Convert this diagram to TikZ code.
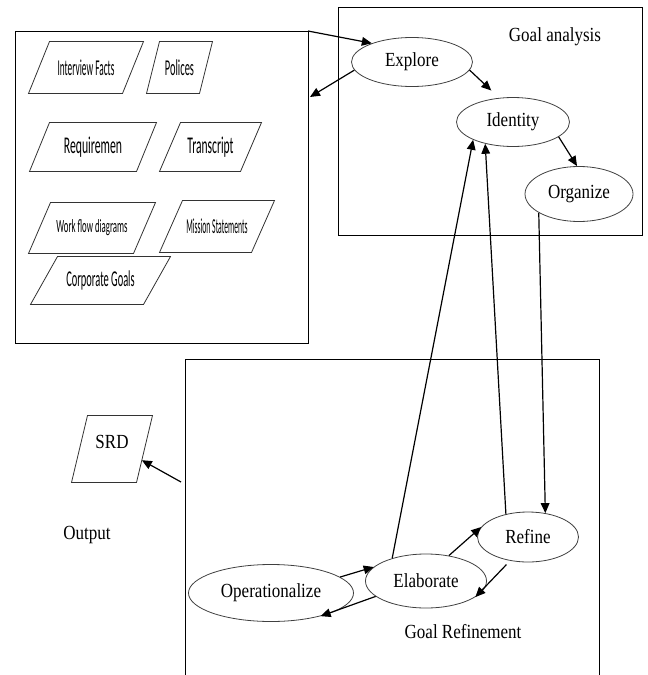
\documentclass[tikz,border=0pt]{standalone}
\usepackage{fontspec}
\usepackage{graphicx}
\usetikzlibrary{shapes.geometric,arrows.meta,calc}

\newfontfamily\goalfont[FakeStretch=0.85]{Liberation Serif}
\newfontfamily\docfont{Carlito}
\newcommand{\squeeze}[3]{{\fontsize{#1}{#1}\docfont\scalebox{#2}[1]{#3}}}

\tikzset{every picture/.style={line width=0.75pt}}
\tikzset{
  goal/.style={ellipse, draw=black!75, line width=0.6pt, inner sep=0pt, font=\fontsize{15}{17}\goalfont},
  doc/.style={rectangle, inner sep=0pt},
  docline/.style={draw=black!80, line width=0.6pt},
  link/.style={-{Triangle[length=7.5pt,width=6.5pt]}, line width=0.9pt},
  caption/.style={font=\fontsize{15}{17}\goalfont}
}

\begin{document}
\begin{tikzpicture}[x=0.75pt,y=0.75pt,yscale=-1,xscale=1]
    \useasboundingbox (0,0) rectangle (648,675);

    %Shape: Rectangle [sources]
    \draw (15,31) rectangle (308,343);
    \coordinate (srcNE) at (308,31);
    \coordinate (srcIn) at (310,97);
    %Shape: Rectangle [goal analysis]
    \draw (338,7) rectangle (642,235);
    %Shape: Open Rectangle [goal refinement]
    \draw (185,677) |- (599,359) -- (599,677);
    \coordinate (refW) at (181,482);

    %Shape: Parallelograms [sources]
    \node[doc, minimum width=85.5pt, minimum height=38.25pt] (facts) at (86,67.5) {\squeeze{17}{0.41}{Interview Facts}};
    \node[doc, minimum width=48.75pt, minimum height=38.25pt] (polices) at (179.5,67.5) {\squeeze{17}{0.46}{Polices}};
    \node[doc, minimum width=94.5pt, minimum height=36pt] (req) at (93,147) {\squeeze{18}{0.49}{Requiremen}};
    \node[doc, minimum width=75.75pt, minimum height=36pt] (transcript) at (210.5,147) {\squeeze{18}{0.48}{Transcript}};
    \node[doc, minimum width=94.5pt, minimum height=37.5pt] (workflow) at (92,228) {\squeeze{14}{0.47}{Work flow diagrams}};
    \node[doc, minimum width=85.5pt, minimum height=38.25pt] (mission) at (217,226.5) {\squeeze{16}{0.36}{Mission Statements}};
    \node[doc, minimum width=104.25pt, minimum height=35.25pt] (corporate) at (100.5,280.5) {\squeeze{17}{0.46}{Corporate Goals}};
    %Shape: Parallelogram [output]
    \node[doc, minimum width=60pt, minimum height=49.5pt, font=\fontsize{15}{17}\goalfont, text depth=10pt] (srd) at (112,449) {SRD};

    % slanted outlines of the parallelograms
    \foreach \name/\s in {facts/15.75, polices/9.75, req/15, transcript/15.75, workflow/16.5, mission/17.25, corporate/20.25, srd/12}
      \draw[docline] ([xshift=\s pt]\name.north west) -- (\name.north east) -- ([xshift=-\s pt]\name.south east) -- (\name.south west) -- cycle;

    %Shape: Ellipses [goal analysis]
    \node[goal, minimum width=90.75pt, minimum height=36.75pt] (explore) at (412,62) {Explore};
    \node[goal, minimum width=84.75pt, minimum height=36.75pt] (identity) at (513,122) {Identity};
    \node[goal, minimum width=81pt, minimum height=41.25pt] (organize) at (579,194) {Organize};
    %Shape: Ellipses [goal refinement]
    \node[goal, minimum width=123.75pt, minimum height=42.75pt] (operationalize) at (271,593) {Operationalize};
    \node[goal, minimum width=90.75pt, minimum height=40.5pt] (elaborate) at (426,581) {Elaborate};
    \node[goal, minimum width=75.75pt, minimum height=37.5pt] (refine) at (528,537) {Refine};

    \node[caption] (analysisLabel) at (555,37) {Goal analysis};
    \node[caption] (refinementLabel) at (463,632) {Goal Refinement};
    \node[caption] (outputLabel) at (87,535) {Output};

    %Straight Lines
    \draw[link] (srcNE) -- (explore.155);
    \draw[link] (explore.188) -- (srcIn);
    \draw[link, shorten >=8pt] (explore.-8) -- (identity.120);
    \draw[link] (identity.-18) -- (organize.94);
    \draw[link] (organize.205) -- (refine.54);
    \draw[link] (elaborate.146) -- (identity.204);
    \draw[link] (refine.134) -- (identity.218);
    \draw[link] (elaborate.48) -- (refine.168);
    \draw[link, shorten <=4pt] (refine.233) -- (elaborate.-18);
    \draw[link] (operationalize.13) -- (elaborate.165);
    \draw[link] (elaborate.197) -- (operationalize.-25);
    \draw[link] (refW) -- ($(srd.north east)!0.667!([xshift=-12pt]srd.south east)$);

\end{tikzpicture}
\end{document}
